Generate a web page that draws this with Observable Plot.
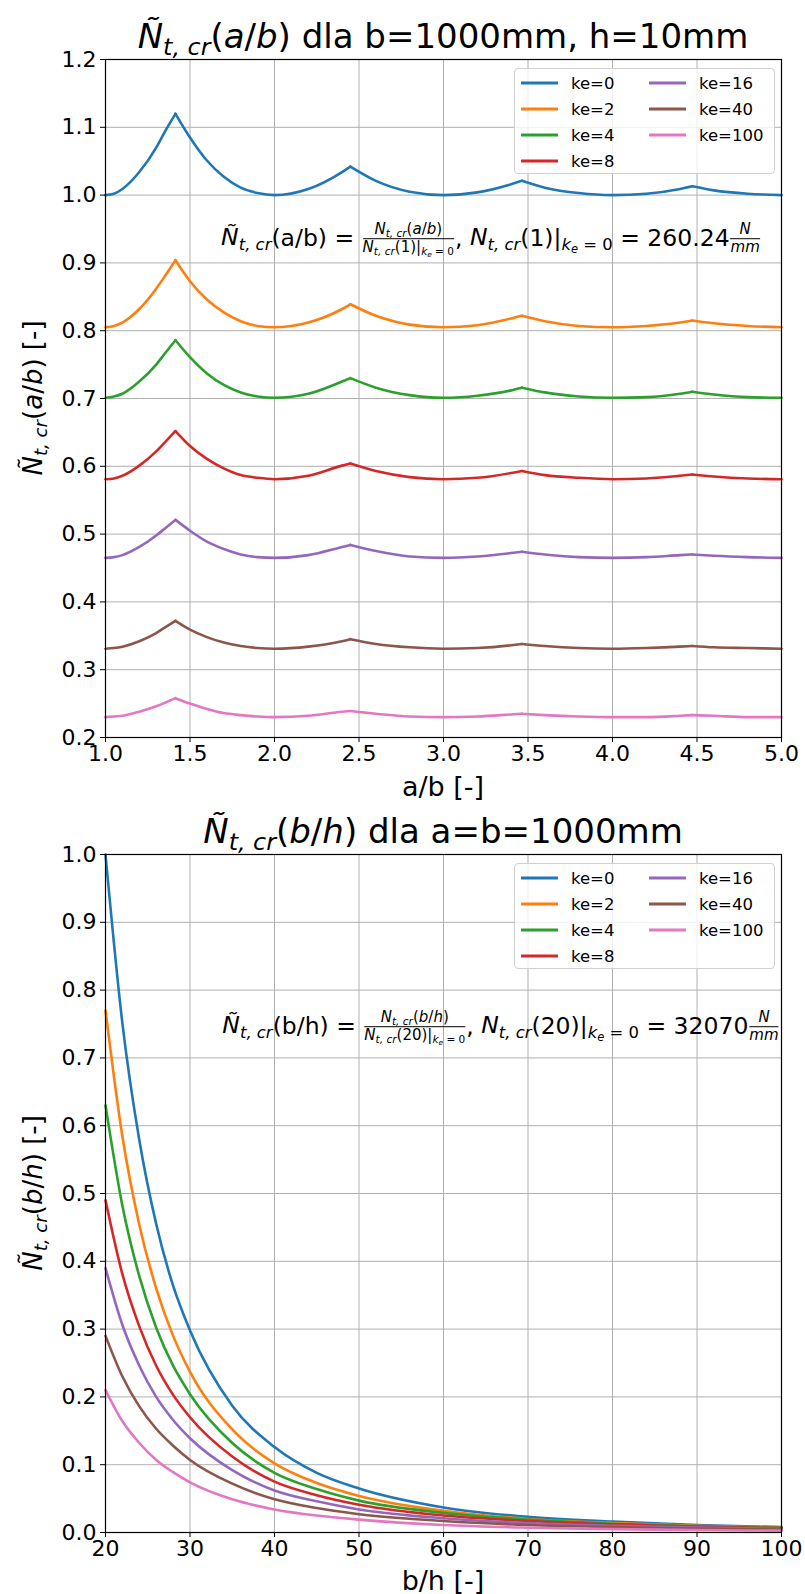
<!DOCTYPE html>
<html>
<head>
<meta charset="utf-8">
<script src="https://cdn.jsdelivr.net/npm/d3@7"></script>
<script src="https://cdn.jsdelivr.net/npm/@observablehq/plot@0.6"></script>
<style>
  html, body { margin: 0; padding: 0; background: white; }
  #wrap { position: relative; width: 805px; height: 1594px; overflow: hidden; font-family: "DejaVu Sans", sans-serif; color: black; }
  #wrap svg { position: absolute; left: 0; }
  .txt { position: absolute; white-space: nowrap; transform: translate(-50%, -50%); line-height: 1; }
  .ylab { position: absolute; white-space: nowrap; transform: translate(-50%, -50%) rotate(-90deg); line-height: 1; }
  sub { font-size: 0.7em; vertical-align: -0.28em; line-height: 0; }
  .frac { display: inline-flex; flex-direction: column; vertical-align: middle; font-size: 0.64em; text-align: center; line-height: 1.15; margin: 0 1px; }
  .frac > span:first-child { border-bottom: 1px solid black; padding: 0 2px; }
  .legend { position: absolute; border: 1px solid #d0d0d0; border-radius: 4px; background: rgba(255,255,255,0.8); font-size: 16.5px; }
  .legend .item { position: absolute; display: flex; align-items: center; transform: translateY(-50%); }
  .legend .sw { width: 37px; height: 2.6px; margin-right: 13px; }
</style>
</head>
<body>
<div id="wrap"></div>
<script>
// ---------- data ----------
const keLabels = ["ke=0", "ke=2", "ke=4", "ke=8", "ke=16", "ke=40", "ke=100"];
const colors = ["#1f77b4", "#ff7f0e", "#2ca02c", "#d62728", "#9467bd", "#8c564b", "#e377c2"];

// top chart: a/b  (cusps where the curve has a sharp peak)
const abCusps = [1.414, 2.449, 3.464, 4.472];
const abX = [1.0, 1.05, 1.1, 1.2, 1.3, 1.35, 1.414, 1.5, 1.6, 1.7, 1.8, 1.9, 2.0, 2.2, 2.4, 2.449, 2.6, 2.8, 3.0, 3.2, 3.4, 3.464, 3.6, 3.8, 4.0, 4.2, 4.4, 4.472, 4.6, 4.8, 5.0];
const abKe0   = [1.000, 1.002, 1.009, 1.034, 1.070, 1.093, 1.120, 1.085, 1.051, 1.027, 1.011, 1.003, 1.000, 1.009, 1.034, 1.042, 1.021, 1.005, 1.000, 1.004, 1.016, 1.021, 1.011, 1.003, 1.000, 1.002, 1.009, 1.013, 1.007, 1.002, 1.000];
const abKe2   = [0.805, 0.807, 0.812, 0.832, 0.862, 0.880, 0.904, 0.873, 0.846, 0.827, 0.814, 0.807, 0.805, 0.812, 0.832, 0.839, 0.822, 0.809, 0.805, 0.808, 0.818, 0.822, 0.814, 0.807, 0.805, 0.807, 0.812, 0.815, 0.811, 0.807, 0.805];
const abKe4   = [0.701, 0.703, 0.707, 0.725, 0.750, 0.766, 0.786, 0.761, 0.737, 0.720, 0.709, 0.703, 0.701, 0.707, 0.725, 0.730, 0.716, 0.705, 0.701, 0.704, 0.712, 0.716, 0.709, 0.703, 0.701, 0.702, 0.707, 0.710, 0.706, 0.702, 0.701];
const abKe8   = [0.581, 0.582, 0.586, 0.601, 0.622, 0.635, 0.652, 0.630, 0.611, 0.597, 0.587, 0.583, 0.581, 0.586, 0.601, 0.604, 0.593, 0.584, 0.581, 0.583, 0.590, 0.593, 0.587, 0.583, 0.581, 0.582, 0.586, 0.588, 0.585, 0.582, 0.581];
const abKe16  = [0.465, 0.466, 0.469, 0.481, 0.498, 0.508, 0.521, 0.505, 0.489, 0.478, 0.470, 0.466, 0.465, 0.469, 0.481, 0.484, 0.475, 0.467, 0.465, 0.467, 0.472, 0.474, 0.470, 0.466, 0.465, 0.466, 0.469, 0.470, 0.468, 0.466, 0.465];
const abKe40  = [0.331, 0.332, 0.334, 0.342, 0.354, 0.362, 0.372, 0.359, 0.348, 0.340, 0.335, 0.332, 0.331, 0.334, 0.342, 0.345, 0.338, 0.333, 0.331, 0.332, 0.336, 0.338, 0.335, 0.332, 0.331, 0.332, 0.334, 0.335, 0.333, 0.332, 0.331];
const abKe100 = [0.230, 0.231, 0.232, 0.238, 0.246, 0.251, 0.258, 0.250, 0.242, 0.236, 0.233, 0.231, 0.230, 0.232, 0.238, 0.239, 0.235, 0.231, 0.230, 0.231, 0.234, 0.235, 0.233, 0.231, 0.230, 0.230, 0.232, 0.233, 0.232, 0.230, 0.230];
const abSeries = [abKe0, abKe2, abKe4, abKe8, abKe16, abKe40, abKe100];
const abXTicks = [1.0, 1.5, 2.0, 2.5, 3.0, 3.5, 4.0, 4.5, 5.0];
const abYTicks = [0.2, 0.3, 0.4, 0.5, 0.6, 0.7, 0.8, 0.9, 1.0, 1.1, 1.2];

// bottom chart: b/h
const bhX = [20, 22, 24, 26, 28, 30, 35, 40, 45, 50, 60, 70, 80, 90, 100];
const bhKe0   = [1.000, 0.751, 0.579, 0.455, 0.364, 0.298, 0.187, 0.126, 0.088, 0.065, 0.037, 0.023, 0.016, 0.011, 0.008];
const bhKe2   = [0.770, 0.584, 0.454, 0.360, 0.290, 0.237, 0.152, 0.102, 0.073, 0.054, 0.032, 0.020, 0.014, 0.0098, 0.0072];
const bhKe4   = [0.630, 0.482, 0.378, 0.302, 0.246, 0.204, 0.132, 0.088, 0.064, 0.047, 0.029, 0.019, 0.013, 0.0093, 0.0070];
const bhKe8   = [0.490, 0.381, 0.304, 0.246, 0.203, 0.170, 0.112, 0.075, 0.055, 0.041, 0.025, 0.017, 0.012, 0.0084, 0.0064];
const bhKe16  = [0.390, 0.306, 0.246, 0.200, 0.166, 0.139, 0.092, 0.062, 0.046, 0.034, 0.021, 0.014, 0.0099, 0.0072, 0.0055];
const bhKe40  = [0.290, 0.230, 0.186, 0.153, 0.128, 0.107, 0.072, 0.049, 0.036, 0.027, 0.017, 0.011, 0.0079, 0.0058, 0.0044];
const bhKe100 = [0.210, 0.164, 0.132, 0.107, 0.089, 0.074, 0.049, 0.034, 0.025, 0.019, 0.011, 0.0071, 0.0050, 0.0036, 0.0027];
const bhSeries = [bhKe0, bhKe2, bhKe4, bhKe8, bhKe16, bhKe40, bhKe100];
const bhXTicks = [20, 30, 40, 50, 60, 70, 80, 90, 100];
const bhYTicks = [0.0, 0.1, 0.2, 0.3, 0.4, 0.5, 0.6, 0.7, 0.8, 0.9, 1.0];

// ---------- build ----------
function toRows(xs, series, cusps) {
  const rows = [];
  series.forEach((vals, i) => vals.forEach((v, j) => {
    const x = xs[j];
    const seg = cusps.filter(c => c < x).length;
    rows.push({x, y: v, ke: keLabels[i], seg: keLabels[i] + "|" + seg});
    if (cusps.includes(x)) rows.push({x, y: v, ke: keLabels[i], seg: keLabels[i] + "|" + (seg + 1)});
  }));
  return rows;
}

function chart({rows, xDomain, yDomain, xTicks, yTicks, xFmt, height}) {
  return Plot.plot({
    width: 805, height,
    marginTop: 59, marginBottom: height - 59 - 678, marginLeft: 105, marginRight: 24,
    x: {domain: xDomain},
    y: {domain: yDomain},
    color: {domain: keLabels, range: colors},
    style: {fontFamily: "DejaVu Sans", fontSize: "22px", color: "black", background: "transparent", overflow: "visible"},
    marks: [
      Plot.gridX(xTicks, {stroke: "#b0b0b0", strokeOpacity: 1, strokeWidth: 1}),
      Plot.gridY(yTicks, {stroke: "#b0b0b0", strokeOpacity: 1, strokeWidth: 1}),
      Plot.line(rows, {x: "x", y: "y", z: "seg", stroke: "ke", strokeWidth: 2.6, curve: "monotone-x"}),
      Plot.frame({stroke: "black", strokeWidth: 1.2}),
      Plot.axisX(xTicks, {tickFormat: xFmt, tickSize: 5, tickPadding: 3, label: null, fontSize: 22}),
      Plot.axisY(yTicks, {tickFormat: d => d.toFixed(1), tickSize: 5, tickPadding: 4, label: null, fontSize: 22})
    ]
  });
}

const wrap = document.getElementById("wrap");

const top1 = chart({rows: toRows(abX, abSeries, abCusps), xDomain: [1, 5], yDomain: [0.2, 1.2],
  xTicks: abXTicks, yTicks: abYTicks, xFmt: d => d.toFixed(1), height: 800});
top1.style.top = "0px";
wrap.appendChild(top1);

const bot = chart({rows: toRows(bhX, bhSeries, []), xDomain: [20, 100], yDomain: [0, 1],
  xTicks: bhXTicks, yTicks: bhYTicks, xFmt: d => String(d), height: 799});
bot.style.top = "795px";
wrap.appendChild(bot);

function addHTML(html, cls, left, top, extra) {
  const d = document.createElement("div");
  d.className = cls;
  d.style.left = left + "px";
  d.style.top = top + "px";
  if (extra) Object.assign(d.style, extra);
  d.innerHTML = html;
  wrap.appendChild(d);
  return d;
}

const Nt = '<i>Ñ<sub>t, cr</sub></i>';
const N = '<i>N<sub>t, cr</sub></i>';
const ke0 = '|<sub><i>k<sub>e</sub></i> = 0</sub>';

// titles
addHTML(Nt + '(<i>a</i>/<i>b</i>) dla b=1000mm, h=10mm', "txt", 443, 36, {fontSize: "34px"});
addHTML(Nt + '(<i>b</i>/<i>h</i>) dla a=b=1000mm', "txt", 443, 831, {fontSize: "34px"});

// x labels
addHTML('a/b [-]', "txt", 443, 786, {fontSize: "27px"});
addHTML('b/h [-]', "txt", 443, 1580, {fontSize: "27px"});

// y labels
addHTML(Nt + '(<i>a</i>/<i>b</i>) [-]', "ylab", 33, 398, {fontSize: "26px"});
addHTML(Nt + '(<i>b</i>/<i>h</i>) [-]', "ylab", 33, 1193, {fontSize: "26px"});

// annotations
addHTML(Nt + '(a/b) = <span class="frac"><span>' + N + '(<i>a</i>/<i>b</i>)</span><span>' + N + '(1)' + ke0 + '</span></span>, ' +
  N + '(1)' + ke0 + ' = 260.24<span class="frac"><span><i>N</i></span><span><i>mm</i></span></span>', "txt", 491, 239, {fontSize: "23.5px"});
addHTML(Nt + '(b/h) = <span class="frac"><span>' + N + '(<i>b</i>/<i>h</i>)</span><span>' + N + '(20)' + ke0 + '</span></span>, ' +
  N + '(20)' + ke0 + ' = 32070<span class="frac"><span><i>N</i></span><span><i>mm</i></span></span>', "txt", 501, 1027, {fontSize: "23.5px"});

// legends
function legend(top) {
  const box = addHTML('', "legend", 514, top, {width: "259px", height: "104px"});
  keLabels.forEach((k, i) => {
    const col = i < 4 ? 0 : 1;
    const row = i < 4 ? i : i - 4;
    const it = document.createElement("div");
    it.className = "item";
    it.style.left = (col === 0 ? 6 : 134) + "px";
    it.style.top = (14 + row * 26) + "px";
    it.innerHTML = '<div class="sw" style="background:' + colors[i] + '"></div><span>' + k + '</span>';
    box.appendChild(it);
  });
}
legend(68);
legend(863);
</script>
</body>
</html>
